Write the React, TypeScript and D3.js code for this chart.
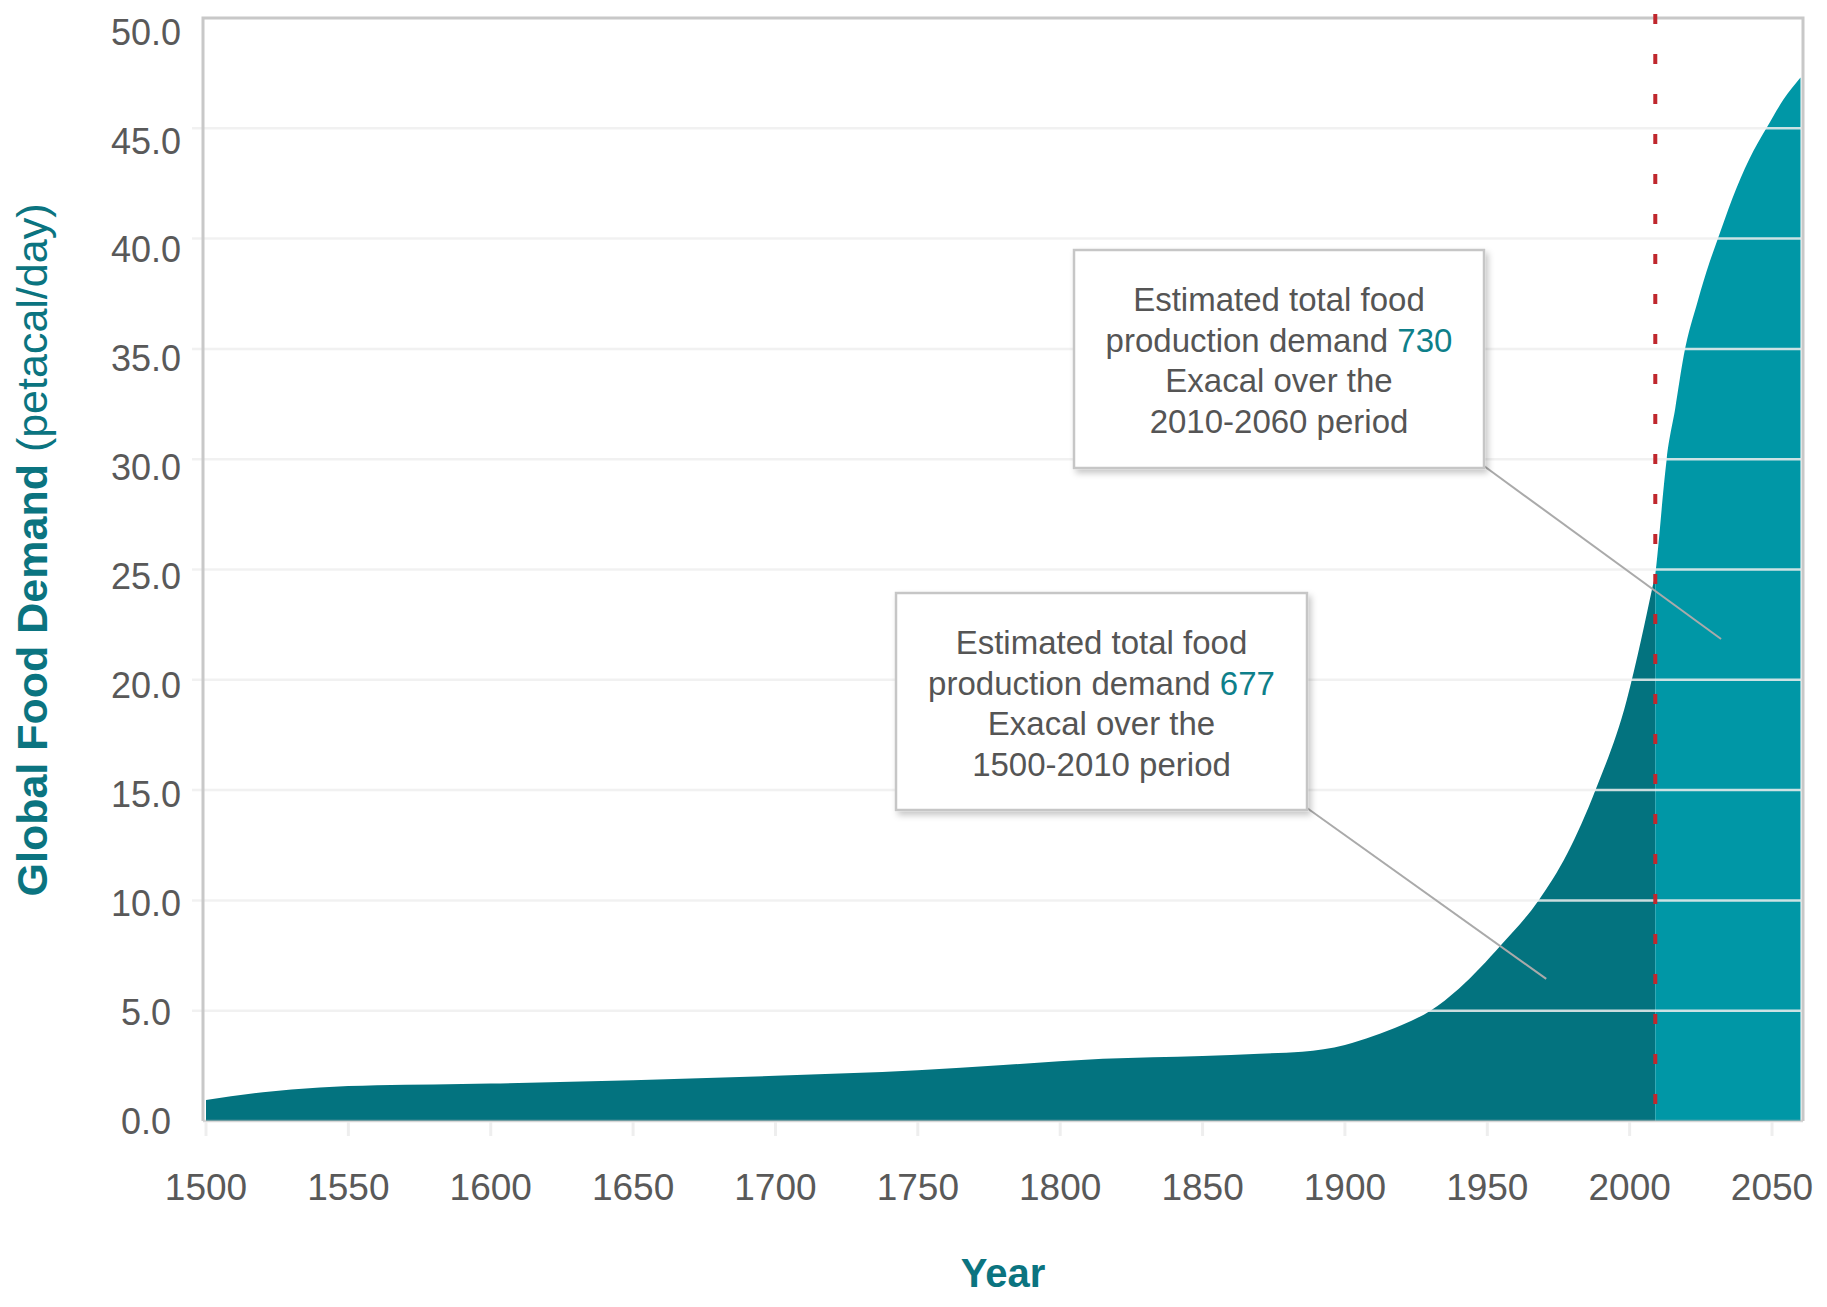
import React, { useEffect, useRef } from 'react';
import * as d3 from 'd3';

// Global food demand (petacal/day)
const years = [
  1500, 1520, 1540, 1560, 1580, 1600, 1650, 1700, 1750, 1780, 1815, 1850, 1870, 1885,
  1900, 1910, 1920, 1930, 1940, 1955, 1968, 1978, 1988, 1999, 2004, 2008, 2009, 2010,
  2012, 2013, 2016, 2019, 2024, 2028, 2031, 2036, 2042, 2048, 2054, 2060
];
const demand = [
  0.95, 1.3, 1.52, 1.62, 1.66, 1.7, 1.85, 2.05, 2.3, 2.54, 2.82, 2.95, 3.05, 3.14,
  3.45, 3.85, 4.35, 5.0, 6.0, 8.0, 10.0, 12.1, 15.0, 19.1, 21.8, 24.2, 24.8, 26.0,
  28.8, 30.0, 32.3, 34.7, 37.2, 38.9, 40.0, 41.8, 43.6, 45.0, 46.3, 47.3
];
const yTicks = [0, 5, 10, 15, 20, 25, 30, 35, 40, 45, 50];
const xTicks = [1500, 1550, 1600, 1650, 1700, 1750, 1800, 1850, 1900, 1950, 2000, 2050];
const splitYear = 2009;

const calloutTexts = [
  ['Estimated total food', 'production demand ', 'Exacal over the', '2010-2060 period'],
  ['Estimated total food', 'production demand ', 'Exacal over the', '1500-2010 period']
];
const calloutTotals = ['730', '677'];
const calloutAnchorYears = [2032.1, 1970.7];
const calloutAnchorValues = [21.85, 6.44];

const TEAL_DARK = '#03737f';
const TEAL_LIGHT = '#0097a6';
const TITLE_COLOR = '#0b7480';
const FONT = '"Liberation Sans", Arial, sans-serif';

const App: React.FC = () => {
  const svgRef = useRef<SVGSVGElement>(null);

  useEffect(() => {
    const width = 1827;
    const height = 1307;
    const svg = d3.select(svgRef.current);
    svg.selectAll('*').remove();
    svg.attr('width', width).attr('height', height);

    const left = 203;
    const right = 1803;
    const top = 18;
    const bottom = 1121;

    const x = d3.scaleLinear().domain([1500, 2060]).range([206, 1800.5]);
    const y = d3.scaleLinear().domain([0, 50]).range([bottom, top]);
    // tick labels sit a little lower than the grid towards the top
    const yLabel = d3.scaleLinear().domain([0, 50]).range([bottom, 32]);

    const data: [number, number][] = years.map((yr, i) => [yr, demand[i]]);

    const defs = svg.append('defs');
    defs.append('clipPath').attr('id', 'clip-hist')
      .append('rect')
      .attr('x', left).attr('y', 0)
      .attr('width', x(splitYear) - left).attr('height', bottom);
    defs.append('clipPath').attr('id', 'clip-proj')
      .append('rect')
      .attr('x', x(splitYear)).attr('y', 0)
      .attr('width', right - x(splitYear)).attr('height', bottom);
    const shadow = defs.append('filter').attr('id', 'box-shadow')
      .attr('x', '-10%').attr('y', '-10%').attr('width', '125%').attr('height', '125%');
    shadow.append('feDropShadow')
      .attr('dx', 3).attr('dy', 4).attr('stdDeviation', 3)
      .attr('flood-color', '#000').attr('flood-opacity', 0.22);

    svg.append('rect').attr('width', width).attr('height', height).attr('fill', '#fff');

    // Area
    const area = d3.area<[number, number]>()
      .x(d => x(d[0]))
      .y0(y(0))
      .y1(d => y(d[1]))
      .curve(d3.curveMonotoneX);

    svg.append('path')
      .datum(data)
      .attr('d', area)
      .attr('fill', TEAL_DARK)
      .attr('clip-path', 'url(#clip-hist)');

    svg.append('path')
      .datum(data)
      .attr('d', area)
      .attr('fill', TEAL_LIGHT)
      .attr('clip-path', 'url(#clip-proj)');

    // Gridlines (drawn over the area)
    svg.append('g')
      .selectAll('line')
      .data(yTicks.filter(v => v > 0 && v < 50))
      .join('line')
      .attr('x1', 192).attr('x2', right)
      .attr('y1', d => y(d)).attr('y2', d => y(d))
      .attr('stroke', '#eeeeee')
      .attr('stroke-opacity', 0.85)
      .attr('stroke-width', 2.5);

    // Bottom axis line and tick marks
    svg.append('line')
      .attr('x1', left).attr('x2', right)
      .attr('y1', bottom).attr('y2', bottom)
      .attr('stroke', '#bbbbbb').attr('stroke-opacity', 0.6).attr('stroke-width', 2.5);

    svg.append('g')
      .selectAll('line')
      .data(xTicks)
      .join('line')
      .attr('x1', d => x(d)).attr('x2', d => x(d))
      .attr('y1', bottom + 1).attr('y2', bottom + 15)
      .attr('stroke', '#eeeeee').attr('stroke-width', 3);

    // Frame
    svg.append('path')
      .attr('d', `M${left},${bottom} V${top} H${right} V${bottom}`)
      .attr('fill', 'none')
      .attr('stroke', '#c8c8c8')
      .attr('stroke-width', 3);

    // Y tick labels
    svg.append('g')
      .selectAll('text')
      .data(yTicks)
      .join('text')
      .attr('x', 146)
      .attr('y', d => yLabel(d))
      .attr('dy', '0.35em')
      .attr('text-anchor', 'middle')
      .style('font-family', FONT)
      .style('font-size', '36px')
      .style('fill', '#595959')
      .text(d => d.toFixed(1));

    // X tick labels
    svg.append('g')
      .selectAll('text')
      .data(xTicks)
      .join('text')
      .attr('x', d => x(d))
      .attr('y', 1200)
      .attr('text-anchor', 'middle')
      .style('font-family', FONT)
      .style('font-size', '37px')
      .style('fill', '#595959')
      .text(d => String(d));

    // Red dotted divider
    svg.append('line')
      .attr('x1', x(splitYear)).attr('x2', x(splitYear))
      .attr('y1', 14).attr('y2', 1134)
      .attr('stroke', '#c0272d')
      .attr('stroke-width', 4)
      .attr('stroke-dasharray', '10,30');

    // Callouts
    const boxes = [
      { x: 1074, y: 250, w: 410, h: 218 },
      { x: 896, y: 593, w: 411, h: 217 }
    ];

    boxes.forEach((b, i) => {
      svg.append('line')
        .attr('x1', b.x + b.w).attr('y1', b.y + b.h - 2)
        .attr('x2', x(calloutAnchorYears[i]))
        .attr('y2', y(calloutAnchorValues[i]))
        .attr('stroke', '#aaaaaa')
        .attr('stroke-width', 2);
    });

    boxes.forEach((b, i) => {
      const g = svg.append('g');
      g.append('rect')
        .attr('x', b.x).attr('y', b.y)
        .attr('width', b.w).attr('height', b.h)
        .attr('fill', '#fff')
        .attr('stroke', '#c6c6c6')
        .attr('stroke-width', 2.5)
        .attr('filter', 'url(#box-shadow)');

      calloutTexts[i].forEach((line, j) => {
        const t = g.append('text')
          .attr('x', b.x + b.w / 2)
          .attr('y', b.y + 61 + j * 40.5)
          .attr('text-anchor', 'middle')
          .style('font-family', FONT)
          .style('font-size', '33px')
          .style('fill', '#555555');
        t.append('tspan').text(line);
        if (j === 1) {
          t.append('tspan').style('fill', '#0e7f8a').text(calloutTotals[i]);
        }
      });
    });

    // Axis titles
    const yTitle = svg.append('text')
      .attr('transform', 'translate(47,550) rotate(-90)')
      .attr('text-anchor', 'middle')
      .style('font-family', FONT)
      .style('font-size', '43px')
      .style('fill', TITLE_COLOR);
    yTitle.append('tspan').style('font-weight', 'bold').text('Global Food Demand');
    yTitle.append('tspan').text(' (petacal/day)');

    svg.append('text')
      .attr('x', 1003)
      .attr('y', 1287)
      .attr('text-anchor', 'middle')
      .style('font-family', FONT)
      .style('font-size', '40px')
      .style('font-weight', 'bold')
      .style('fill', TITLE_COLOR)
      .text('Year');
  }, []);

  return (
    <svg
      ref={svgRef}
      style={{ position: 'absolute', left: 0, top: 0, display: 'block' }}
    />
  );
};

export default App;
